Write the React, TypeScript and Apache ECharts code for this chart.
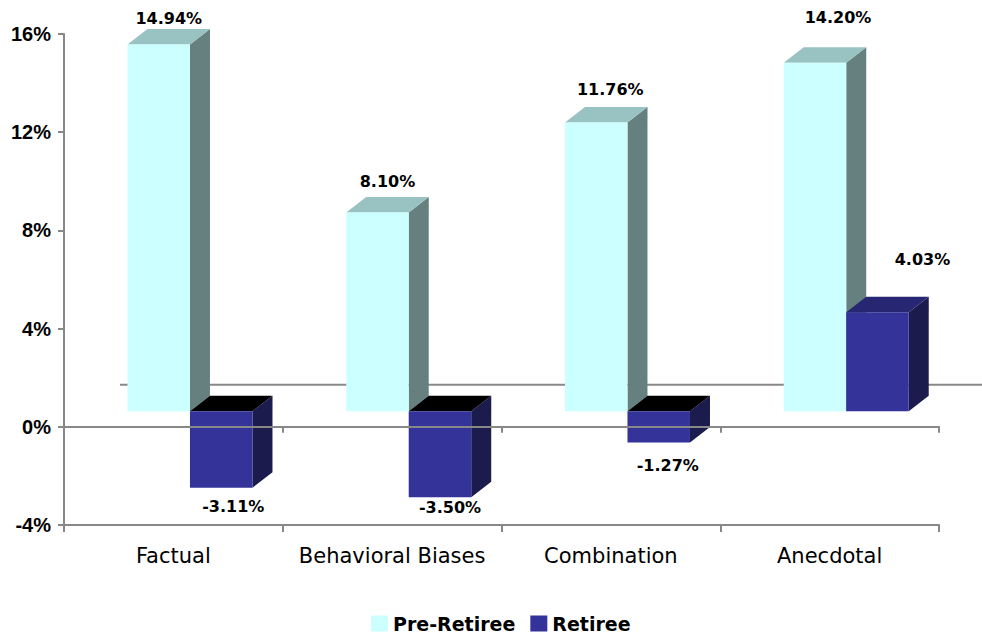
import React, { useEffect, useRef } from "react";
import * as echarts from "echarts";

// Chart data
const categories = ["Factual", "Behavioral Biases", "Combination", "Anecdotal"];
const preRetiree = [14.94, 8.1, 11.76, 14.2];
const retiree = [-3.11, -3.5, -1.27, 4.03];
const yMin = -4;
const yMax = 16;
const yStep = 4;

// Label nudges (px) relative to the front face: above the top for gains, below the bottom for losses
const preLabelNudge = [
  [10, -26],
  [10, -31],
  [14, -33],
  [23, -45],
];
const retireeLabelNudge = [
  [12, 19],
  [10, 10],
  [9, 23],
  [45, -53],
];

// 3D box geometry
const FRONT_DX = 16.6;
const FRONT_DY = -15.5;
const DEPTH_DX = 20;
const DEPTH_DY = -15.5;
const WALL_DX = 56;
const WALL_DY = -42;

const palette = {
  pre: { front: "#CCFFFF", side: "#668080", top: "#99C2C2" },
  ret: { front: "#333399", side: "#1B1B4D", top: "#262673", topNeg: "#000000" },
};

const AXIS_COLOR = "#888888";

function boxRenderer(slot: number, colors: any, nudges: number[][]) {
  return (params: any, api: any) => {
    const cat = api.value(0);
    const v = api.value(1);
    const zero = api.coord([cat, 0]);
    const end = api.coord([cat, v]);
    const band = api.size([1, 0])[0];
    const w = (band * 2) / 7;
    const x0 = zero[0] - w + slot * w + FRONT_DX;
    const x1 = x0 + w;
    const yZero = zero[1] + FRONT_DY;
    const yVal = end[1] + FRONT_DY;
    const yt = Math.min(yZero, yVal);
    const yb = Math.max(yZero, yVal);
    const topFill = v < 0 && colors.topNeg ? colors.topNeg : colors.top;
    const nudge = nudges[params.dataIndex];
    const labelX = (x0 + x1) / 2 + nudge[0];
    const labelY = (v >= 0 ? yVal : yb) + nudge[1];
    return {
      type: "group",
      children: [
        {
          type: "polygon",
          shape: {
            points: [
              [x1, yt],
              [x1 + DEPTH_DX, yt + DEPTH_DY],
              [x1 + DEPTH_DX, yb + DEPTH_DY],
              [x1, yb],
            ],
          },
          style: { fill: colors.side },
        },
        {
          type: "polygon",
          shape: {
            points: [
              [x0, yt],
              [x0 + DEPTH_DX, yt + DEPTH_DY],
              [x1 + DEPTH_DX, yt + DEPTH_DY],
              [x1, yt],
            ],
          },
          style: { fill: topFill },
        },
        {
          type: "rect",
          shape: { x: x0, y: yt, width: w, height: yb - yt },
          style: { fill: colors.front },
        },
        {
          type: "text",
          x: labelX,
          y: labelY,
          style: {
            text: v.toFixed(2) + "%",
            fill: "#000000",
            font: 'bold 16px "DejaVu Sans"',
            align: "center",
            verticalAlign: "middle",
          },
        },
      ],
    };
  };
}

// Floor line of the back wall, running behind the boxes
function wallRenderer(params: any, api: any) {
  const band = api.size([1, 0])[0];
  const first = api.coord([0, 0]);
  const last = api.coord([categories.length - 1, 0]);
  const left = first[0] - band / 2 + WALL_DX;
  const right = last[0] + band / 2 + WALL_DX;
  const y = first[1] + WALL_DY;
  return {
    type: "line",
    shape: { x1: left, y1: y, x2: right, y2: y },
    style: { stroke: AXIS_COLOR, lineWidth: 2 },
  };
}

export default function App() {
  const ref = useRef<HTMLDivElement>(null);

  useEffect(() => {
    document.body.style.margin = "0";
    if (!ref.current) return;
    const chart = echarts.init(ref.current, null, { renderer: "svg" });
    const grid = { left: 64, width: 875, top: 34, height: 491 };
    chart.setOption({
      animation: false,
      backgroundColor: "#ffffff",
      grid: [grid, grid],
      legend: {
        left: 366,
        top: 609,
        itemWidth: 17,
        itemHeight: 16,
        itemGap: 15,
        icon: "rect",
        textStyle: {
          fontFamily: "DejaVu Sans",
          fontWeight: "bold",
          fontSize: 19,
          color: "#000000",
        },
        data: ["Pre-Retiree", "Retiree"],
      },
      xAxis: [
        {
          type: "category",
          gridIndex: 0,
          data: categories,
          position: "bottom",
          axisLine: { onZero: false, lineStyle: { color: AXIS_COLOR, width: 2 } },
          axisTick: {
            show: true,
            interval: 0,
            length: 7,
            alignWithLabel: false,
            lineStyle: { color: AXIS_COLOR, width: 2 },
          },
          axisLabel: {
            interval: 0,
            margin: 20,
            color: "#000000",
            fontFamily: "DejaVu Sans",
            fontSize: 21,
          },
        },
        {
          type: "category",
          gridIndex: 1,
          data: categories,
          z: 10,
          axisLine: { onZero: true, lineStyle: { color: AXIS_COLOR, width: 2 } },
          axisTick: { show: true, interval: 0, length: 6, lineStyle: { color: AXIS_COLOR, width: 2 } },
          axisLabel: { show: false, interval: 0 },
        },
      ],
      yAxis: [
        {
          type: "value",
          gridIndex: 0,
          min: yMin,
          max: yMax,
          interval: yStep,
          axisLine: { show: true, lineStyle: { color: AXIS_COLOR, width: 2 } },
          axisTick: { show: true, length: 6, lineStyle: { color: AXIS_COLOR, width: 2 } },
          splitLine: { show: false },
          axisLabel: {
            formatter: "{value}%",
            margin: 13,
            color: "#000000",
            fontFamily: "Liberation Sans",
            fontWeight: "bold",
            fontSize: 20,
          },
        },
        {
          type: "value",
          gridIndex: 1,
          min: yMin,
          max: yMax,
          interval: yStep,
          show: false,
        },
      ],
      series: [
        {
          type: "custom",
          name: "wall",
          xAxisIndex: 0,
          yAxisIndex: 0,
          z: 1,
          silent: true,
          renderItem: wallRenderer,
          data: [[0, 0]],
        },
        {
          type: "custom",
          name: "Pre-Retiree",
          xAxisIndex: 0,
          yAxisIndex: 0,
          z: 2,
          itemStyle: { color: palette.pre.front },
          renderItem: boxRenderer(0, palette.pre, preLabelNudge),
          data: preRetiree.map((v, i) => [i, v]),
        },
        {
          type: "custom",
          name: "Retiree",
          xAxisIndex: 0,
          yAxisIndex: 0,
          z: 3,
          itemStyle: { color: palette.ret.front },
          renderItem: boxRenderer(1, palette.ret, retireeLabelNudge),
          data: retiree.map((v, i) => [i, v]),
        },
      ],
    });
    return () => chart.dispose();
  }, []);

  return <div ref={ref} style={{ width: 982, height: 634 }} />;
}
